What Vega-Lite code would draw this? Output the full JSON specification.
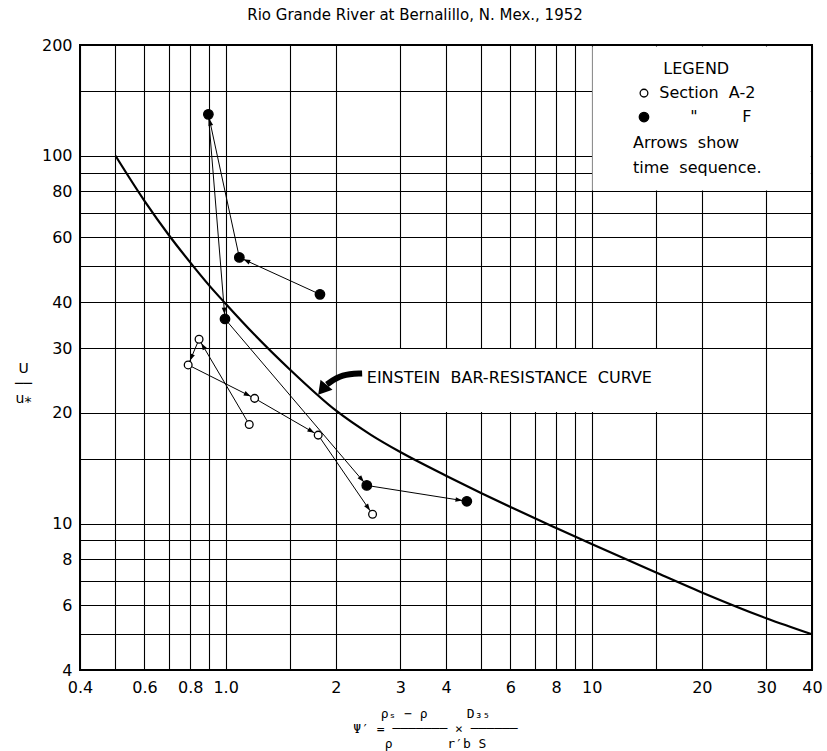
{
  "$schema": "https://vega.github.io/schema/vega-lite/v6.json",
  "width": 732,
  "height": 625,
  "autosize": "none",
  "padding": {"left": 80, "top": 45, "right": 15, "bottom": 81},
  "background": "white",
  "title": {"text": "Rio Grande River at Bernalillo, N. Mex., 1952", "anchor": "middle", "dx": -31, "offset": 14, "fontSize": 15, "fontWeight": "normal", "font": "DejaVu Sans", "color": "black"},
  "config": {
    "view": {"stroke": "black", "strokeWidth": 2},
    "axis": {"grid": true, "gridColor": "black", "gridOpacity": 1, "gridWidth": 1.1, "domain": false, "ticks": false, "tickSize": 0, "labelFont": "DejaVu Sans", "labelFontSize": 16, "labelColor": "black", "labelOverlap": false, "labelBound": false, "labelFlush": false, "titleColor": "black", "titleFontWeight": "normal"}
  },
  "datasets": {
    "curve": [
      {"psi": 0.5, "ratio": 100}, {"psi": 0.6, "ratio": 75.4}, {"psi": 0.7, "ratio": 60.8}, {"psi": 0.8, "ratio": 51.3},
      {"psi": 0.9, "ratio": 44.5}, {"psi": 1.0, "ratio": 39.6}, {"psi": 1.2, "ratio": 32.6}, {"psi": 1.5, "ratio": 26.2},
      {"psi": 2, "ratio": 20.3}, {"psi": 2.5, "ratio": 17.4}, {"psi": 3, "ratio": 15.65}, {"psi": 4, "ratio": 13.5},
      {"psi": 5, "ratio": 12.1}, {"psi": 6, "ratio": 11.1}, {"psi": 8, "ratio": 9.73}, {"psi": 10, "ratio": 8.8},
      {"psi": 15, "ratio": 7.36}, {"psi": 20, "ratio": 6.5}, {"psi": 30, "ratio": 5.53}, {"psi": 40, "ratio": 5.0}
    ],
    "obs": [
      {"section": "A-2", "seq": 1, "psi": 1.16, "ratio": 18.6},
      {"section": "A-2", "seq": 2, "psi": 0.846, "ratio": 31.7},
      {"section": "A-2", "seq": 3, "psi": 0.79, "ratio": 27.0},
      {"section": "A-2", "seq": 4, "psi": 1.2, "ratio": 21.9},
      {"section": "A-2", "seq": 5, "psi": 1.79, "ratio": 17.4},
      {"section": "A-2", "seq": 6, "psi": 2.52, "ratio": 10.6},
      {"section": "F", "seq": 1, "psi": 1.81, "ratio": 42},
      {"section": "F", "seq": 2, "psi": 1.09, "ratio": 52.9},
      {"section": "F", "seq": 3, "psi": 0.897, "ratio": 129.6},
      {"section": "F", "seq": 4, "psi": 0.996, "ratio": 36},
      {"section": "F", "seq": 5, "psi": 2.43, "ratio": 12.7},
      {"section": "F", "seq": 6, "psi": 4.56, "ratio": 11.5}
    ],
    "legendSym": [
      {"section": "A-2", "psi": 13.9, "ratio": 148},
      {"section": "F", "psi": 13.9, "ratio": 127.4}
    ],
    "labels": [
      {"txt": "LEGEND", "psi": 15.7, "ratio": 172},
      {"txt": "Section\u00a0\u00a0A-2", "psi": 15.3, "ratio": 148},
      {"txt": "\"", "psi": 18.6, "ratio": 127.4},
      {"txt": "F", "psi": 25.8, "ratio": 127.4},
      {"txt": "Arrows\u00a0\u00a0show", "psi": 12.97, "ratio": 108},
      {"txt": "time\u00a0\u00a0sequence.", "psi": 12.97, "ratio": 92.6},
      {"txt": "EINSTEIN\u00a0\u00a0BAR-RESISTANCE\u00a0\u00a0CURVE", "psi": 2.43, "ratio": 24.9}
    ],
    "boxes": [
      {"psi": 10.05, "psi2": 39.7, "ratio": 80.4, "ratio2": 198},
      {"psi": 2.01, "psi2": 19.9, "ratio": 20.1, "ratio2": 29.85}
    ],
    "callout": [
      {"seq": 1, "psi": 2.36, "ratio": 25.6},
      {"seq": 2, "psi": 2.08, "ratio": 25.5},
      {"seq": 3, "psi": 1.89, "ratio": 23.9},
      {"seq": 4, "psi": 1.79, "ratio": 22.4}
    ]
  },
  "encoding": {
    "x": {
      "field": "psi", "type": "quantitative",
      "scale": {"type": "log", "domain": [0.4, 40], "nice": false},
      "axis": {
        "values": [0.4, 0.5, 0.6, 0.7, 0.8, 0.9, 1, 1.5, 2, 3, 4, 5, 6, 7, 8, 9, 10, 15, 20, 30, 40],
        "format": "~g",
        "labelExpr": "datum.value == 1 ? '1.0' : (indexof([0.4,0.6,0.8,1,2,3,4,6,8,10,20,30,40], datum.value) >= 0 ? datum.label : '')",
        "labelPadding": 9,
        "title": ["\u00a0\u00a0\u00a0\u00a0\u00a0ρₛ\u00a0−\u00a0ρ\u00a0\u00a0\u00a0\u00a0\u00a0D₃₅\u00a0\u00a0", "Ψ′\u00a0=\u00a0───────\u00a0×\u00a0──────", "\u00a0\u00a0\u00a0\u00a0\u00a0\u00a0\u00a0\u00a0ρ\u00a0\u00a0\u00a0\u00a0\u00a0\u00a0\u00a0r′b\u00a0S"],
        "titleFont": "DejaVu Sans Mono",
        "titleFontSize": 13,
        "titleLineHeight": 15,
        "titleX": 355,
        "titleY": 43,
        "titleAlign": "center",
        "titleBaseline": "middle",
        "titleAngle": 0
      }
    },
    "y": {
      "field": "ratio", "type": "quantitative",
      "scale": {"type": "log", "domain": [4, 200], "nice": false},
      "axis": {
        "values": [4, 5, 6, 7, 8, 9, 10, 15, 20, 30, 40, 50, 60, 70, 80, 90, 100, 150, 200],
        "format": "~g",
        "labelExpr": "indexof([4,6,8,10,20,30,40,60,80,100,200], datum.value) >= 0 ? datum.label : ''",
        "labelPadding": 8,
        "title": ["U", "──", "u⁎"],
        "titleFont": "DejaVu Sans",
        "titleFontSize": 14,
        "titleLineHeight": 15,
        "titleX": -57,
        "titleY": 323,
        "titleAlign": "center",
        "titleBaseline": "middle",
        "titleAngle": 0
      }
    }
  },
  "layer": [
    {
      "data": {"name": "boxes"},
      "mark": {"type": "rect", "fill": "white", "strokeWidth": 0},
      "encoding": {"x2": {"field": "psi2"}, "y2": {"field": "ratio2"}}
    },
    {
      "data": {"name": "curve"},
      "mark": {"type": "line", "color": "black", "strokeWidth": 2.2, "interpolate": "monotone"},
      "encoding": {}
    },
    {
      "data": {"name": "obs"},
      "mark": {"type": "line", "color": "black", "strokeWidth": 1},
      "encoding": {"detail": {"field": "section"}, "order": {"field": "seq"}}
    },
    {
      "data": {"name": "obs"},
      "transform": [
        {"window": [{"op": "lag", "field": "psi", "as": "p0"}, {"op": "lag", "field": "ratio", "as": "r0"}], "groupby": ["section"], "sort": [{"field": "seq", "order": "ascending"}]},
        {"filter": "isValid(datum.p0)"},
        {"calculate": "atan2(-(log(datum.ratio)-log(datum.r0))*367.8, (log(datum.psi)-log(datum.p0))*366)*180/PI", "as": "ang"}
      ],
      "mark": {"type": "point", "shape": "M -0.75 0 L -1.9 -0.4 L -1.9 0.4 Z", "filled": true, "color": "black", "size": 144, "opacity": 1},
      "encoding": {"angle": {"field": "ang", "type": "quantitative", "scale": null}}
    },
    {
      "data": {"name": "obs"},
      "mark": {"type": "point", "shape": "circle", "filled": true, "stroke": "black", "strokeWidth": 1.3, "opacity": 1},
      "encoding": {
        "fill": {"field": "section", "type": "nominal", "scale": {"domain": ["A-2", "F"], "range": ["white", "black"]}, "legend": null},
        "size": {"field": "section", "type": "ordinal", "scale": {"domain": ["A-2", "F"], "range": [60, 90]}, "legend": null}
      }
    },
    {
      "data": {"name": "legendSym"},
      "mark": {"type": "point", "shape": "circle", "filled": true, "stroke": "black", "strokeWidth": 1.3, "opacity": 1},
      "encoding": {
        "fill": {"field": "section", "type": "nominal", "scale": {"domain": ["A-2", "F"], "range": ["white", "black"]}, "legend": null},
        "size": {"field": "section", "type": "ordinal", "scale": {"domain": ["A-2", "F"], "range": [40, 90]}, "legend": null}
      }
    },
    {
      "data": {"name": "labels"},
      "mark": {"type": "text", "align": "left", "baseline": "middle", "font": "DejaVu Sans", "fontSize": 16, "color": "black"},
      "encoding": {"text": {"field": "txt"}}
    },
    {
      "data": {"name": "callout"},
      "transform": [{"filter": "datum.seq <= 3"}],
      "mark": {"type": "line", "color": "black", "strokeWidth": 6, "interpolate": "basis"},
      "encoding": {"order": {"field": "seq"}}
    },
    {
      "data": {"name": "callout"},
      "transform": [
        {"window": [{"op": "lag", "field": "psi", "as": "p0"}, {"op": "lag", "field": "ratio", "as": "r0"}], "sort": [{"field": "seq", "order": "ascending"}]},
        {"filter": "datum.seq == 4"},
        {"calculate": "atan2(-(log(datum.ratio)-log(datum.r0))*367.8, (log(datum.psi)-log(datum.p0))*366)*180/PI", "as": "ang"}
      ],
      "mark": {"type": "point", "shape": "M 0 0 L -1 -0.6 L -1 0.6 Z", "filled": true, "color": "black", "size": 676, "opacity": 1},
      "encoding": {"angle": {"field": "ang", "type": "quantitative", "scale": null}}
    }
  ]
}
